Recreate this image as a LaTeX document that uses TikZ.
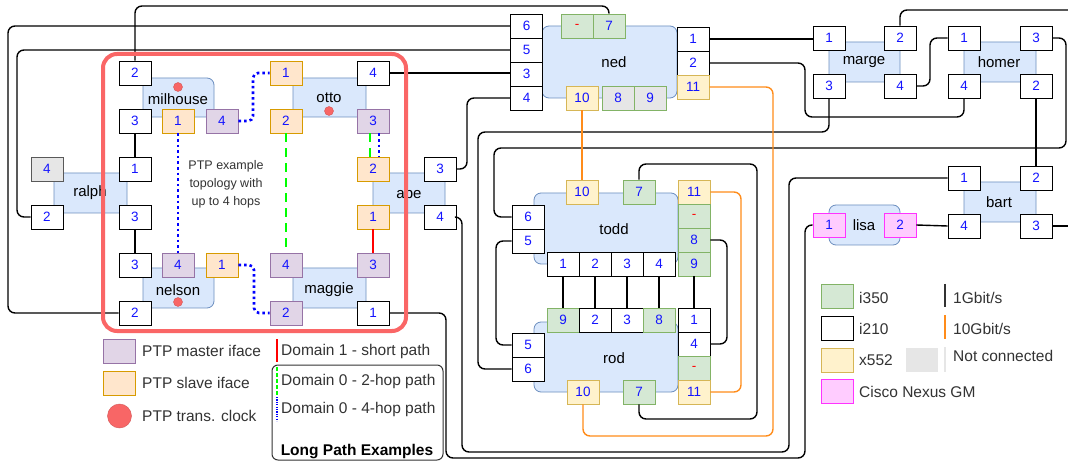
\documentclass[tikz,border=0pt]{standalone}
\usepackage{fontspec}
\setmainfont{Liberation Sans}
\definecolor{bodyfill}{HTML}{DAE8FC}
\definecolor{bodydraw}{HTML}{6C8EBF}
\definecolor{masterfill}{HTML}{E1D5E7}
\definecolor{masterdraw}{HTML}{9673A6}
\definecolor{slavefill}{HTML}{FFE6CC}
\definecolor{slavedraw}{HTML}{D79B00}
\definecolor{xfill}{HTML}{FFF2CC}
\definecolor{xdraw}{HTML}{D6B656}
\definecolor{gfill}{HTML}{D5E8D4}
\definecolor{gdraw}{HTML}{82B366}
\definecolor{pfill}{HTML}{FFCCFF}
\definecolor{pdraw}{HTML}{FF33FF}
\definecolor{ncfill}{HTML}{E6E6E6}
\definecolor{portblue}{HTML}{1414FF}
\definecolor{tenorange}{HTML}{FF8C1A}
\definecolor{framered}{HTML}{FA6666}
\definecolor{dotred}{HTML}{F86666}
\definecolor{legtext}{HTML}{333333}
\definecolor{green2hop}{HTML}{00FF00}
\newcommand\mypf{\fontsize{13.5}{16}\selectfont}
\newcommand\mylf{\fontsize{15}{18}\selectfont}
\newcommand\mygf{\fontsize{15.5}{18}\selectfont}
\newcommand\mysf{\fontsize{12.5}{18}\selectfont}
\begin{document}
\begin{tikzpicture}[x=1pt,y=-1pt,
  port/.style={draw, minimum width=32pt, minimum height=24pt, inner sep=0pt, font=\mypf, text=portblue, line width=0.8pt},
  wp/.style={port, fill=white, draw=black},
  gp/.style={port, fill=gfill, draw=gdraw},
  yp/.style={port, fill=xfill, draw=xdraw},
  mp/.style={port, fill=masterfill, draw=masterdraw},
  sp/.style={port, fill=slavefill, draw=slavedraw},
  pp/.style={port, fill=pfill, draw=pdraw},
  np/.style={port, fill=ncfill, draw=black!65},
  ngp/.style={port, fill=ncfill, draw=gdraw},
  dashport/.style={gp, text=red},
  body/.style={draw=bodydraw, fill=bodyfill, rounded corners=7pt, line width=0.8pt, inner sep=0pt},
  lbl/.style={font=\mylf, text=black, inner sep=0pt},
  dot/.style={circle, fill=dotred, draw=dotred!85!black, minimum size=9pt, inner sep=0pt},
  link/.style={draw=black, line width=1.4pt, rounded corners=7pt},
  tenG/.style={draw=tenorange, line width=1.4pt, rounded corners=7pt},
  hop4/.style={draw=blue, line width=2.6pt, dash pattern=on 2.6pt off 3pt, rounded corners=5pt},
  hop2/.style={draw=green2hop, line width=2.6pt, dash pattern=on 9pt off 6pt},
  short/.style={draw=red, line width=2.4pt},
  legtxt/.style={font=\mygf, text=legtext, anchor=west, inner sep=0pt},
  legbox/.style={minimum width=32pt, minimum height=24pt, inner sep=0pt, line width=0.8pt}
]
\useasboundingbox (0,0) rectangle (1068,462);
\fill[white] (0,0) rectangle (1068,462);

% ---------- bodies ----------
\node[body, minimum width=71pt, minimum height=39pt] (milhouse) at (178.5,97.5) {};
\node[body, minimum width=73pt, minimum height=40pt] (ralph) at (90.5,193) {};
\node[body, minimum width=71pt, minimum height=40pt] (nelson) at (178.5,288) {};
\node[body, minimum width=73pt, minimum height=39pt] (otto) at (329.5,97.5) {};
\node[body, minimum width=72pt, minimum height=40pt] (abe) at (409,193) {};
\node[body, minimum width=73pt, minimum height=40pt] (maggie) at (329.5,288) {};
\node[body, minimum width=135pt, minimum height=72pt] (ned) at (609.5,62) {};
\node[body, minimum width=144pt, minimum height=71pt] (todd) at (606,228.5) {};
\node[body, minimum width=144pt, minimum height=70pt] (rod) at (606,357) {};
\node[body, minimum width=71pt, minimum height=40pt] (marge) at (864.5,62) {};
\node[body, minimum width=72pt, minimum height=40pt] (homer) at (1000,62) {};
\node[body, minimum width=72pt, minimum height=40pt] (bart) at (1000,202) {};
\node[body, minimum width=71pt, minimum height=40pt] (lisa) at (864.5,225) {};

\node[lbl] (milhouseL) at (178,99) {milhouse};
\node[lbl] (ralphL) at (90,193) {ralph};
\node[lbl] (nelsonL) at (178,290) {nelson};
\node[lbl] (ottoL) at (329,98) {otto};
\node[lbl] (abeL) at (409,193) {abe};
\node[lbl] (maggieL) at (329,290) {maggie};
\node[lbl] (nedL) at (614,62) {ned};
\node[lbl] (toddL) at (614,229) {todd};
\node[lbl] (rodL) at (614,358) {rod};
\node[lbl] (margeL) at (864,62) {marge};
\node[lbl] (homerL) at (999,62) {homer};
\node[lbl] (bartL) at (999,202) {bart};
\node[lbl] (lisaL) at (864,225) {lisa};

\node[dot] (mhdot) at (178,87) {};
\node[dot] (otdot) at (329,111) {};
\node[dot] (nedot) at (178,302) {};

% ---------- ports ----------
\node[wp] (mh2) at (135,73) {2};
\node[wp] (mh3) at (135,121) {3};
\node[sp] (mh1) at (178,121) {1};
\node[mp] (mh4) at (222,121) {4};

\node[np] (ra4) at (47,169) {4};
\node[wp] (ra2) at (47,217) {2};
\node[wp] (ra1) at (135,169) {1};
\node[wp] (ra3) at (135,217) {3};

\node[wp] (ne3) at (135,265) {3};
\node[mp] (ne4) at (178,265) {4};
\node[sp] (ne1) at (222,265) {1};
\node[wp] (ne2) at (135,313) {2};

\node[sp] (ot1) at (286,73) {1};
\node[wp] (ot4) at (373,73) {4};
\node[sp] (ot2) at (286,121) {2};
\node[mp] (ot3) at (373,121) {3};

\node[sp] (ab2) at (373,169) {2};
\node[wp] (ab3) at (440,169) {3};
\node[sp] (ab1) at (373,217) {1};
\node[wp] (ab4) at (440,217) {4};

\node[mp] (ma4) at (286,265) {4};
\node[mp] (ma3) at (373,265) {3};
\node[mp] (ma2) at (286,313) {2};
\node[wp] (ma1) at (373,313) {1};

\node[wp] (ned6) at (526.5,26) {6};
\node[wp] (ned5) at (526.5,50) {5};
\node[wp] (ned3) at (526.5,74) {3};
\node[wp] (ned4) at (526.5,98) {4};
\node[dashport] (nedm) at (577,26) {-};
\node[gp] (ned7) at (609,26) {7};
\node[wp] (ned1) at (693,39) {1};
\node[wp] (ned2) at (693,63) {2};
\node[yp] (ned11) at (693,87) {11};
\node[yp] (ned10) at (582,98) {10};
\node[ngp] (ned8) at (618,98) {8};
\node[ngp] (ned9) at (650,98) {9};

\node[yp] (td10) at (582,192) {10};
\node[gp] (td7) at (639,192) {7};
\node[yp] (td11) at (694,192) {11};
\node[dashport] (tdm) at (694,216) {-};
\node[gp] (td8) at (694,240) {8};
\node[gp] (td9) at (694,264) {9};
\node[wp] (td6) at (528,217) {6};
\node[wp] (td5) at (528,241) {5};
\node[wp] (td1) at (563,264) {1};
\node[wp] (td2) at (595,264) {2};
\node[wp] (td3) at (627,264) {3};
\node[wp] (td4) at (659,264) {4};

\node[gp] (rd9) at (563,320) {9};
\node[wp] (rd2) at (595,320) {2};
\node[wp] (rd3) at (627,320) {3};
\node[gp] (rd8) at (659,320) {8};
\node[wp] (rd1) at (694,320) {1};
\node[wp] (rd4) at (694,344) {4};
\node[dashport] (rdm) at (694,368) {-};
\node[yp] (rd11) at (694,392) {11};
\node[wp] (rd5) at (528,345) {5};
\node[wp] (rd6) at (528,369) {6};
\node[yp] (rd10) at (583,392) {10};
\node[gp] (rd7) at (639,392) {7};

\node[wp] (mg1) at (829,38) {1};
\node[wp] (mg2) at (900,38) {2};
\node[wp] (mg3) at (829,86) {3};
\node[wp] (mg4) at (900,86) {4};

\node[wp] (hm1) at (964,38) {1};
\node[wp] (hm3) at (1036,38) {3};
\node[wp] (hm4) at (964,86) {4};
\node[wp] (hm2) at (1036,86) {2};

\node[wp] (bt1) at (964,178) {1};
\node[wp] (bt2) at (1036,178) {2};
\node[wp] (bt4) at (964,226) {4};
\node[wp] (bt3) at (1036,226) {3};

\node[pp] (ls1) at (829,225) {1};
\node[pp] (ls2) at (900,225) {2};

\coordinate (edgeA) at (1068,10);
\coordinate (edgeB) at (1068,226);

% ---------- 1 Gbit links ----------
\draw[link] (mh2.north) -- (mh2.north |- 0,6) -- (ned7.north |- 0,6) -- (ned7.north);
\draw[link] (ned6.west) -- (ned6.west -| 8,0) |- (ne2.west);
\draw[link] (ned5.west) -- (ned5.west -| 17,0) |- (ra2.west);
\draw[link] (ot4.east) -- (ot4.east -| ned3.west);
\draw[link] (ned4.west) -- (ned4.west -| 467,0) |- (ab3.east);
\draw[link] (ab4.east) -- (ab4.east -| 462,0) -- (462,452) -- (789,452) |- (bt1.west);
\draw[link] (ma1.east) -- (ma1.east -| 446,0) -- (446,458) -- (805,458) |- (ls1.west);
\draw[link] (ned1.east) -- (ned1.east -| mg1.west);
\draw[link] (ned2.east) -- (ned2.east -| 805,0) -- (805,117) -| (hm4.south);
\draw[link] (mg2.north) |- (edgeA);
\draw[link] (hm3.east) -- (hm3.east -| 1066,0) -- (1066,148) -- (494,148) |- (td6.west);
\draw[link] (mg3.south) -- (mg3.south |- 0,132) -- (478,132) |- (rd6.west);
\draw[link] (mg4.east) -- (mg4.east -| 930,0) |- (hm1.west);
\draw[link] (hm2.south) -- (bt2.north);
\draw[link] (ls2.east) -- (bt4.west);
\draw[link] (bt3.east) -- (edgeB);
\draw[link] (td7.north) |- (757,164) -- (757,419) -| (rd7.south);
\draw[link] (td8.east) -- (td8.east -| 727,0) |- (rd4.east);
\draw[link] (td9.south) -- (rd1.north);
\draw[link] (td1.south) -- (rd9.north);
\draw[link] (td2.south) -- (rd2.north);
\draw[link] (td3.south) -- (rd3.north);
\draw[link] (td4.south) -- (rd8.north);
\draw[link] (td5.west) -- (td5.west -| 496,0) |- (rd5.west);
\draw[link] (mh3.south) -- (ra1.north);
\draw[link] (ra3.south) -- (ne3.north);

% ---------- 10 Gbit links ----------
\draw[tenG] (ned10.south) -- (td10.north);
\draw[tenG] (ned11.east) -- (ned11.east -| 773,0) -- (773,436) -| (rd10.south);
\draw[tenG] (td11.east) -- (td11.east -| 741,0) |- (rd11.east);

% ---------- PTP paths ----------
\draw[hop4] (mh4.east) -- (mh4.east -| 253,0) |- (ot1.west);
\draw[hop4] (mh1.south) -- (ne4.north);
\draw[hop4] (ne1.east) -- (ne1.east -| 254,0) |- (ma2.west);
\draw[hop4] ([xshift=6pt]ot3.south) -- ([xshift=6pt]ab2.north);
\draw[hop2] ([xshift=-3pt]ot3.south) -- ([xshift=-3pt]ab2.north);
\draw[hop2] (ot2.south) -- (ma4.north);
\draw[short] (ab1.south) -- (ma3.north);

\node[font=\mysf, text=legtext, align=center, inner sep=0pt] (ptpnote) at (226,184) {PTP example\\topology with\\up to 4 hops};

% ---------- PTP frame ----------
\draw[framered, line width=4pt, rounded corners=14pt] (103,54) rectangle (406,331);

% ---------- left legend ----------
\node[legbox, fill=masterfill, draw=masterdraw] (lgm) at (119.5,351) {};
\node[legtxt] (lgmt) at (142,351) {PTP master iface};
\node[legbox, fill=slavefill, draw=slavedraw] (lgs) at (119.5,383) {};
\node[legtxt] (lgst) at (142,383) {PTP slave iface};
\node[circle, minimum size=24pt, inner sep=0pt, fill=dotred, draw=dotred!85!black] (lgc) at (119.5,416) {};
\node[legtxt] (lgct) at (142,416) {PTP trans. clock};

% ---------- middle legend ----------
\draw[draw=black!80, line width=1pt, rounded corners=6pt] (272,365) rectangle (443,460);
\draw[red, line width=1.5pt] (277,339) -- (277,362);
\draw[green2hop, line width=1.2pt, dash pattern=on 4pt off 2pt] (277,367) -- (277,395);
\draw[blue, line width=1.2pt, dash pattern=on 1.2pt off 1.2pt] (277,397) -- (277,421);
\node[legtxt] (d1) at (281,351) {Domain 1 - short path};
\node[legtxt] (d2) at (281,381) {Domain 0 - 2-hop path};
\node[legtxt] (d4) at (281,409) {Domain 0 - 4-hop path};
\node[font=\mygf\bfseries, inner sep=0pt] (lpe) at (357,452) {Long Path Examples};

% ---------- right legend ----------
\node[legbox, fill=gfill, draw=gdraw] (lg1) at (837,296) {};
\node[legtxt] (lg1t) at (859,298) {i350};
\node[legbox, fill=white, draw=black] (lg2) at (837,328.5) {};
\node[legtxt] (lg2t) at (859,329) {i210};
\node[legbox, fill=xfill, draw=xdraw] (lg3) at (837,360) {};
\node[legtxt] (lg3t) at (859,360) {x552};
\node[legbox, fill=pfill, draw=pdraw] (lg4) at (837,391) {};
\node[legtxt] (lg4t) at (859,392) {Cisco Nexus GM};
\node[legbox, fill=ncfill] (lg5) at (922,360) {};
\draw[black!80, line width=1.5pt] (945,284) -- (945,307);
\draw[tenorange, line width=1.5pt] (945,315) -- (945,339);
\draw[ncfill, line width=1.5pt] (945,347) -- (945,372);
\node[legtxt] (lg6t) at (953,298) {1Gbit/s};
\node[legtxt] (lg7t) at (953,329) {10Gbit/s};
\node[legtxt] (lg8t) at (953,356) {Not connected};
\end{tikzpicture}
\end{document}
